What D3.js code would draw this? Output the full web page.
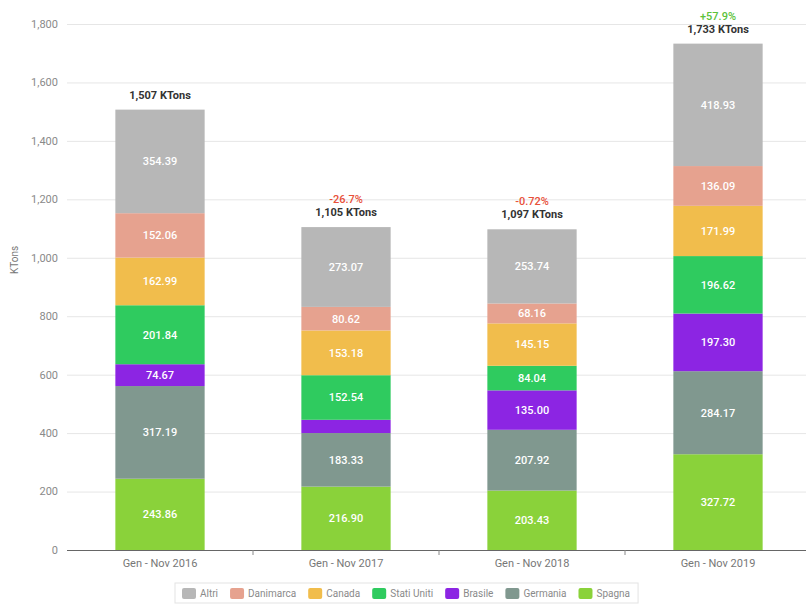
<!DOCTYPE html>
<html>
<head>
<meta charset="utf-8">
<script src="https://cdn.jsdelivr.net/npm/d3@7/dist/d3.min.js"></script>
<style>
  body { margin: 0; background: #fff; }
  #chart { width: 806px; height: 606px; }
  text { font-family: Roboto, "Open Sans", sans-serif; }
</style>
</head>
<body>
<div id="chart"></div>
<script>
var categories = ["Gen - Nov 2016", "Gen - Nov 2017", "Gen - Nov 2018", "Gen - Nov 2019"];
var seriesNames = ["Spagna", "Germania", "Brasile", "Stati Uniti", "Canada", "Danimarca", "Altri"];
var spagna     = [243.86, 216.90, 203.43, 327.72];
var germania   = [317.19, 183.33, 207.92, 284.17];
var brasile    = [74.67, 45.36, 135.00, 197.30];
var statiUniti = [201.84, 152.54, 84.04, 196.62];
var canada     = [162.99, 153.18, 145.15, 171.99];
var danimarca  = [152.06, 80.62, 68.16, 136.09];
var altri      = [354.39, 273.07, 253.74, 418.93];
var totals     = ["1,507 KTons", "1,105 KTons", "1,097 KTons", "1,733 KTons"];
var changes    = [null, "-26.7%", "-0.72%", "+57.9%"];
var yTicks     = [0, 200, 400, 600, 800, 1000, 1200, 1400, 1600, 1800];
var legendOrder = ["Altri", "Danimarca", "Canada", "Stati Uniti", "Brasile", "Germania", "Spagna"];

var colors = {
    "Altri": "#b7b7b7",
    "Danimarca": "#e6a28f",
    "Canada": "#f1bd4c",
    "Stati Uniti": "#2fcb5f",
    "Brasile": "#8c25e3",
    "Germania": "#80988f",
    "Spagna": "#8ad23a"
};

var values = [spagna, germania, brasile, statiUniti, canada, danimarca, altri];

var rows = categories.map(function(c, i) {
    var r = { cat: c };
    seriesNames.forEach(function(s, j) { r[s] = values[j][i]; });
    return r;
});

var svg = d3.select("#chart").append("svg")
    .attr("width", 806)
    .attr("height", 606);

var x = d3.scaleBand()
    .domain(categories)
    .range([67, 811])
    .paddingInner(0.52)
    .paddingOuter(0.26);

var y = d3.scaleLinear()
    .domain([0, 1800])
    .range([550, 24]);

// grid
svg.append("g").selectAll("line")
    .data(yTicks.slice(1))
    .enter().append("line")
    .attr("x1", 67).attr("x2", 806)
    .attr("y1", function(d) { return y(d) + 0.5; })
    .attr("y2", function(d) { return y(d) + 0.5; })
    .attr("stroke", "#e6e6e6")
    .attr("stroke-width", 1);

// y axis labels
svg.append("g").selectAll("text")
    .data(yTicks)
    .enter().append("text")
    .attr("x", 58)
    .attr("y", function(d) { return y(d); })
    .attr("dy", "0.35em")
    .attr("text-anchor", "end")
    .style("font-size", "11px")
    .attr("fill", "#8a8a8a")
    .text(function(d) { return d3.format(",")(d); });

svg.append("text")
    .attr("transform", "translate(18,260) rotate(-90)")
    .attr("text-anchor", "middle")
    .style("font-size", "10px")
    .attr("fill", "#777")
    .text("KTons");

// stacked bars
var stack = d3.stack().keys(seriesNames);
var layers = stack(rows);

var groups = svg.append("g").selectAll("g")
    .data(layers)
    .enter().append("g")
    .attr("fill", function(d) { return colors[d.key]; });

groups.selectAll("rect")
    .data(function(d) { return d; })
    .enter().append("rect")
    .attr("x", function(d) { return x(d.data.cat); })
    .attr("y", function(d) { return y(d[1]); })
    .attr("width", x.bandwidth())
    .attr("height", function(d) { return y(d[0]) - y(d[1]); });

groups.selectAll("text")
    .data(function(d) { return d.filter(function(p) { return y(p[0]) - y(p[1]) > 16; }); })
    .enter().append("text")
    .attr("x", function(d) { return x(d.data.cat) + x.bandwidth() / 2; })
    .attr("y", function(d) { return (y(d[0]) + y(d[1])) / 2; })
    .attr("dy", "0.35em")
    .attr("text-anchor", "middle")
    .style("font-size", "11px")
    .style("font-weight", "500")
    .attr("fill", "#fff")
    .text(function(d) { return d3.format(".2f")(d[1] - d[0]); });

// baseline
svg.append("line")
    .attr("x1", 67).attr("x2", 806)
    .attr("y1", 550.5).attr("y2", 550.5)
    .attr("stroke", "#666")
    .attr("stroke-width", 1);

// x ticks between categories
svg.append("g").selectAll("line")
    .data(categories.slice(1))
    .enter().append("line")
    .attr("x1", function(d) { return x(d) - x.step() * x.paddingInner() / 2; })
    .attr("x2", function(d) { return x(d) - x.step() * x.paddingInner() / 2; })
    .attr("y1", 550).attr("y2", 555)
    .attr("stroke", "#888");

svg.append("g").selectAll("text")
    .data(categories)
    .enter().append("text")
    .attr("x", function(d) { return x(d) + x.bandwidth() / 2; })
    .attr("y", 567)
    .attr("text-anchor", "middle")
    .style("font-size", "11px")
    .attr("fill", "#777")
    .text(function(d) { return d; });

// totals
var tops = layers[layers.length - 1];
svg.append("g").selectAll("text")
    .data(tops)
    .enter().append("text")
    .attr("x", function(d) { return x(d.data.cat) + x.bandwidth() / 2; })
    .attr("y", function(d) { return y(d[1]) - 11; })
    .attr("text-anchor", "middle")
    .style("font-size", "11px")
    .style("font-weight", "bold")
    .attr("fill", "#333")
    .text(function(d, i) { return totals[i]; });

svg.append("g").selectAll("text")
    .data(tops.filter(function(d, i) { return changes[i]; }))
    .enter().append("text")
    .attr("x", function(d) { return x(d.data.cat) + x.bandwidth() / 2; })
    .attr("y", function(d) { return y(d[1]) - 24; })
    .attr("text-anchor", "middle")
    .style("font-size", "11px")
    .style("font-weight", "500")
    .attr("fill", function(d) {
        var c = changes[categories.indexOf(d.data.cat)];
        return c.charAt(0) === "+" ? "#5cc23a" : "#e8503a";
    })
    .text(function(d) { return changes[categories.indexOf(d.data.cat)]; });

// legend
var legend = svg.append("g");
var legendBox = legend.append("rect")
    .attr("y", 583)
    .attr("height", 20)
    .attr("fill", "#fff")
    .attr("stroke", "#e3e3e3");

var lx = 182;
legendOrder.forEach(function(name) {
    legend.append("rect")
        .attr("x", lx).attr("y", 588)
        .attr("width", 14).attr("height", 11)
        .attr("rx", 2)
        .attr("fill", colors[name]);
    var t = legend.append("text")
        .attr("x", lx + 18).attr("y", 597)
        .style("font-size", "10px")
        .attr("fill", "#8a8a8a")
        .text(name);
    lx += 18 + t.node().getComputedTextLength() + 12;
});
legendBox.attr("x", 175).attr("width", lx - 175 - 4);
</script>
</body>
</html>
